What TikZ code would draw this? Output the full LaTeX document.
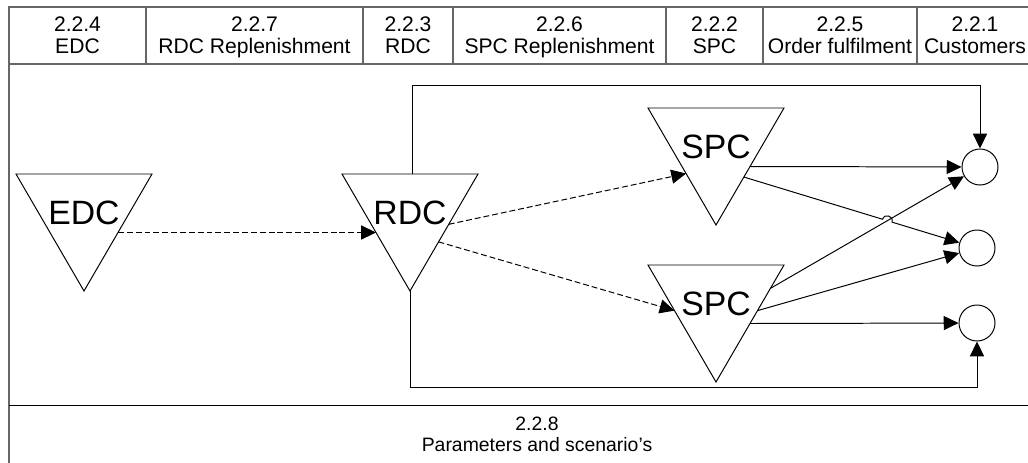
\documentclass[tikz,border=0pt]{standalone}
\usepackage{fontspec}
\setmainfont{Liberation Sans}
\usetikzlibrary{arrows.meta, % for filled tips
                calc, % for points on the triangle sides
                intersections} % for the jump

\begin{document}
\begin{tikzpicture}[x=0.025cm, y=0.025cm, line width=0.7pt,
                    Frame/.style={draw=black!60, line width=1pt},
                    Head/.style={align=center, inner sep=0pt, anchor=north, font=\fontsize{15}{15.6}\selectfont},
                    Foot/.style={align=center, inner sep=0pt, anchor=north, font=\fontsize{13.8}{15.4}\selectfont},
                    Depot/.style={inner sep=0pt, font=\fontsize{24}{28}\selectfont},
                    Customer/.style={draw, circle, minimum size=0.9cm, inner sep=0pt},
                    Flow/.style={-{Triangle[length=10.5pt, width=10pt]}},
                    Supply/.style={Flow, dash pattern=on 4.2pt off 2.1pt}
                    ]
    \useasboundingbox (0,0) rectangle (1028,-462);
    \clip (0,0) rectangle (1028,-462);

    % FRAME %
    \draw[Frame] (9,-470) -- (9,-7) -- (1040,-7);
    \draw[Frame] (9,-64) -- (1040,-64);
    \draw (9,-405) -- (1040,-405);

    % HEADER %
    \foreach \l/\r/\num/\name [count=\i] in {9/146/2.2.4/EDC, 146/363/2.2.7/RDC Replenishment,
        363/453/2.2.3/RDC, 453/666/2.2.6/SPC Replenishment, 666/763/2.2.2/SPC,
        763/917/2.2.5/Order fulfilment, 917/1033/2.2.1/Customers}{
    \node[Head] (h\i) at ({(\l+\r)/2},-16) {\num\\\name};
    \draw[Frame] (\r,-7) -- (\r,-64);
    }

    % FOOTER %
    \node[Foot] (params) at (537,-416) {2.2.8\\Parameters and scenario's};

    % DEPOTS %
    \foreach \n/\x/\y/\txt in {EDC/84/-174/EDC, RDC/410/-174/RDC, SPCa/716/-108/SPC, SPCb/716/-265/SPC}{
    \draw (\x-68,\y) coordinate (\n-l) -- (\x+68,\y) coordinate (\n-r)
        -- (\x,\y-117) coordinate (\n-b) -- cycle;
    \node[Depot] (\n) at (\x,\y-39) {\txt};
    }

    % CUSTOMERS %
    \node[Customer] (C1) at (980,-167) {};
    \node[Customer] (C2) at (977,-248) {};
    \node[Customer] (C3) at (977,-323) {};

    % REPLENISHMENT %
    \draw[Supply] ($(EDC-r)!.5!(EDC-b)$) -- ($(RDC-l)!.5!(RDC-b)$);
    \draw[Supply] ($(RDC-r)!.43!(RDC-b)$) -- ($(SPCa-l)!.56!(SPCa-b)$);
    \draw[Supply] ($(RDC-r)!.58!(RDC-b)$) -- ($(SPCb-l)!.39!(SPCb-b)$);

    % DELIVERIES %
    \draw[Flow] ($(SPCa-r)!.5!(SPCa-b)$) -- (C1);
    \draw[Flow, name path=cross] ($(SPCb-r)!.2!(SPCb-b)$) -- (C1);
    \draw[Flow] ($(SPCb-r)!.39!(SPCb-b)$) -- (C2);
    \draw[Flow] ($(SPCb-r)!.5!(SPCb-b)$) -- (C3);

    \coordinate (s) at ($(SPCa-r)!.59!(SPCa-b)$);
    \path[name path=over] (s) -- (C2);
    \path[name intersections={of=cross and over, by=X}];
    \draw[Flow] (s) -- ($(X)!3.5pt!(s)$) to[bend left=90, looseness=1.7] ($(X)!3.5pt!(C2)$) -- (C2);

    \draw[Flow] ($(RDC-l)!.52!(RDC-r)$) -- ++(0,89) -| (C1.north);
    \draw[Flow] (RDC-b) -- ++(0,-96) -| (C3.south);

\end{tikzpicture}
\end{document}
